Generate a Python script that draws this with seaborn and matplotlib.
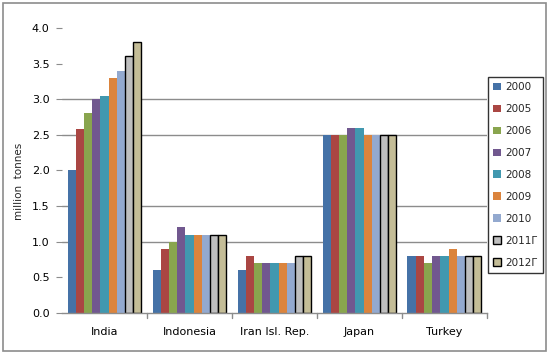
import pandas as pd
import seaborn as sns
import matplotlib.pyplot as plt
from matplotlib.patches import Rectangle
from matplotlib.ticker import FormatStrFormatter

# data
countries = ["India", "Indonesia", "Iran Isl. Rep.", "Japan", "Turkey"]
years = ["2000", "2005", "2006", "2007", "2008", "2009", "2010", "2011Г", "2012Г"]
india = [2.0, 2.58, 2.8, 3.0, 3.05, 3.3, 3.4, 3.6, 3.8]
indonesia = [0.6, 0.9, 1.0, 1.2, 1.1, 1.1, 1.1, 1.1, 1.1]
iran = [0.6, 0.8, 0.7, 0.7, 0.7, 0.7, 0.7, 0.8, 0.8]
japan = [2.5, 2.5, 2.5, 2.6, 2.6, 2.5, 2.5, 2.5, 2.5]
turkey = [0.8, 0.8, 0.7, 0.8, 0.8, 0.9, 0.8, 0.8, 0.8]

colors = ["#4572A7", "#AA4643", "#89A54E", "#71588F", "#4198AF",
          "#DB843D", "#93A9CF", "#BFBFBF", "#C4BD97"]

rows = []
for c, vals in zip(countries, [india, indonesia, iran, japan, turkey]):
    for y, v in zip(years, vals):
        rows.append({"country": c, "year": y, "value": v})
df = pd.DataFrame(rows)

sns.set_style("white")
plt.rcParams["font.family"] = ["DejaVu Sans"]

fig = plt.figure(figsize=(5.5, 3.54), dpi=100)
ax = fig.add_axes([0.1127, 0.1158, 0.7727, 0.8052])

sns.barplot(data=df, x="country", y="value", hue="year", palette=colors,
            width=0.87, gap=0, saturation=1, ax=ax, errorbar=None)

# forecast years get a black outline
for cont in ax.containers[7:]:
    for bar in cont:
        bar.set_edgecolor("black")
        bar.set_linewidth(1.0)
for cont in ax.containers[:7]:
    for bar in cont:
        bar.set_linewidth(0)

ax.set_ylim(0, 4.0)
ax.set_yticks([i * 0.5 for i in range(9)])
ax.yaxis.set_major_formatter(FormatStrFormatter("%.1f"))
ax.set_xlabel("")
ax.set_ylabel("million  tonnes", fontsize=7.5)
ax.yaxis.set_label_coords(-0.09, 0.463)
ax.tick_params(axis="both", labelsize=8, colors="black")
ax.tick_params(axis="x", length=0, pad=10)
ax.tick_params(axis="y", left=True, length=4, color="#8c8c8c", pad=5)

ax.grid(axis="y", color="#8c8c8c", linewidth=1)
ax.set_axisbelow(True)
# only some gridlines survive in the reference image
for val, gl in zip(ax.get_yticks(), ax.get_ygridlines()):
    if val not in (1.0, 1.5, 2.5, 3.0):
        gl.set_visible(False)

for s in ["top", "right", "left"]:
    ax.spines[s].set_visible(False)
ax.spines["bottom"].set_color("#8c8c8c")
ax.spines["bottom"].set_linewidth(1)

# category separator ticks on the x axis
for i in range(1, len(countries) + 1):
    ax.plot([i - 0.5, i - 0.5], [0, -0.07], color="#8c8c8c", lw=1, clip_on=False)
ax.set_xlim(-0.5, len(countries) - 0.5)

handles, labels = ax.get_legend_handles_labels()
ax.get_legend().remove()
leg = fig.legend(handles, labels, loc="upper left", bbox_to_anchor=(0.887, 0.783),
                 frameon=True, fancybox=False, edgecolor="black", fontsize=7.5,
                 handlelength=0.75, handleheight=0.75, labelspacing=1.15,
                 borderpad=0.5, handletextpad=0.4, borderaxespad=0)
leg.get_frame().set_linewidth(1)
for i, h in enumerate(leg.legend_handles):
    if i >= 7:
        h.set_edgecolor("black")
        h.set_linewidth(1.0)
    else:
        h.set_linewidth(0)

fig.patches.append(Rectangle((0.006, 0.008), 0.987, 0.983, transform=fig.transFigure,
                             fill=False, edgecolor="#8c8c8c", linewidth=1.2))

fig.savefig("out.png", dpi=100)
